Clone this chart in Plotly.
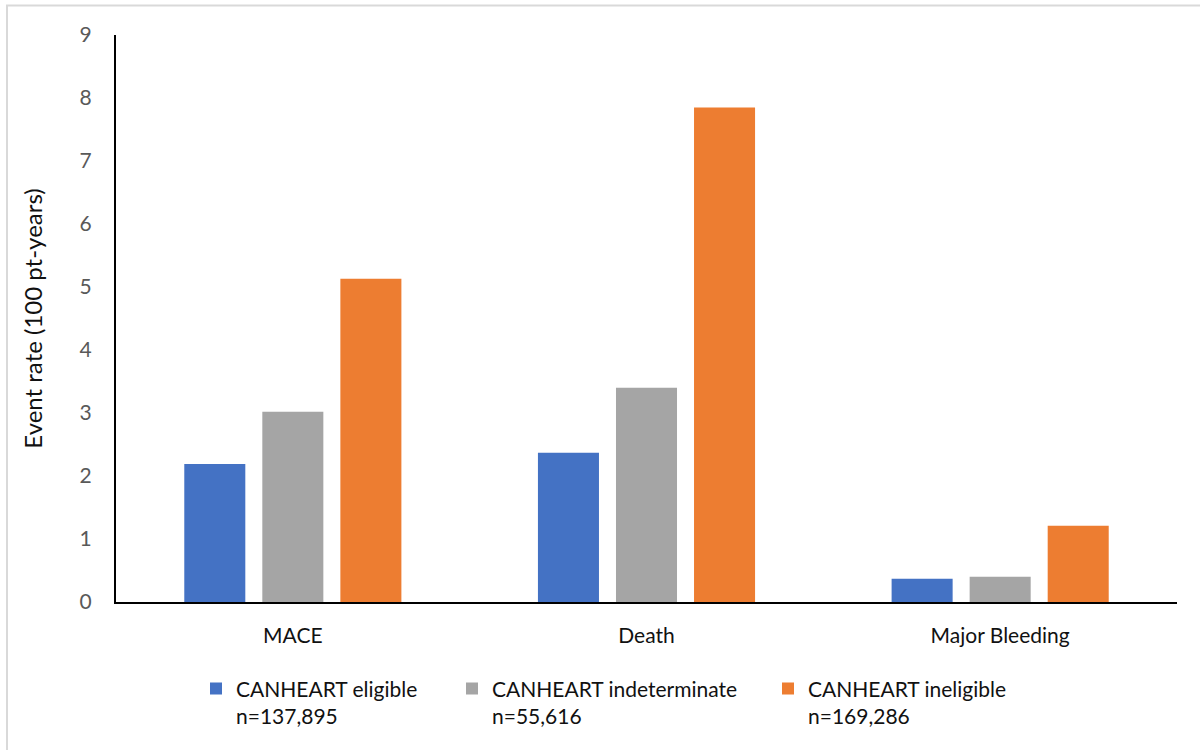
import plotly.graph_objects as go

# Event rates per 100 patient-years by outcome and CANHEART eligibility group
outcomes = ["MACE", "Death", "Major Bleeding"]
series_names = [
    "CANHEART eligible<br>n=137,895",
    "CANHEART indeterminate<br>n=55,616",
    "CANHEART ineligible<br>n=169,286",
]
eligible = [2.19, 2.37, 0.37]
indeterminate = [3.02, 3.40, 0.40]
ineligible = [5.13, 7.85, 1.21]
colors = ["#4472C4", "#A5A5A5", "#ED7D31"]

FONT = "Lato, 'Open Sans', sans-serif"
PLOT_L, PLOT_W = 116, 1061

legend_ids = ["legend", "legend2", "legend3"]
legend_text_x = [236, 492, 808]  # pixel x where each legend label begins

fig = go.Figure()
for name, vals, col, lg in zip(series_names, [eligible, indeterminate, ineligible], colors, legend_ids):
    fig.add_trace(go.Bar(x=outcomes, y=vals, name=name, legend=lg,
                         marker=dict(color=col, line=dict(width=0))))

legend_common = dict(
    orientation="h",
    y=-0.117,
    xanchor="left",
    yanchor="top",
    valign="top",
    font=dict(family=FONT, size=21, color="#111111"),
    itemwidth=30,
    bgcolor="rgba(0,0,0,0)",
)
legend_layout = {}
for lg, tx in zip(legend_ids, legend_text_x):
    legend_layout[lg] = dict(legend_common, x=(tx - 40 - PLOT_L) / PLOT_W)

fig.update_layout(
    width=1200,
    height=750,
    paper_bgcolor="white",
    plot_bgcolor="white",
    barmode="group",
    bargap=0.338,
    bargroupgap=0.218,
    margin=dict(l=PLOT_L, r=23, t=35, b=148, autoexpand=False),
    font=dict(family=FONT, size=21, color="#222222"),
    showlegend=True,
    **legend_layout,
)

fig.update_yaxes(
    range=[0, 9],
    dtick=1,
    showgrid=False,
    zeroline=False,
    showline=True,
    linecolor="black",
    linewidth=2,
    ticks="",
    ticklabelstandoff=18,
    tickfont=dict(family=FONT, size=21, color="#595959"),
    title=dict(text="Event rate (100 pt-years)", font=dict(family=FONT, size=24, color="#111111"), standoff=30),
)
fig.update_xaxes(
    showgrid=False,
    showline=True,
    linecolor="black",
    linewidth=2,
    ticks="",
    ticklabelstandoff=14,
    tickfont=dict(family=FONT, size=21, color="#111111"),
)

# light frame around the chart area
fig.add_shape(
    type="rect",
    xref="paper",
    yref="paper",
    x0=(7 - PLOT_L) / PLOT_W,
    x1=1.1,
    y0=-0.3,
    y1=1 + (35 - 5.5) / 567,
    line=dict(color="#D9D9D9", width=2),
    fillcolor="rgba(0,0,0,0)",
    layer="below",
)

fig.write_html("out.html")
